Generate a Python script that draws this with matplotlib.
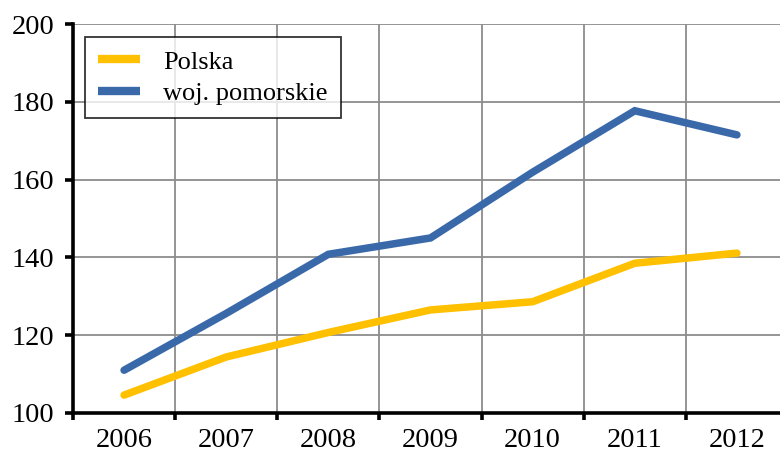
import matplotlib
matplotlib.use("Agg")
import matplotlib.pyplot as plt
import numpy as np

years = ["2006", "2007", "2008", "2009", "2010", "2011", "2012"]
polska = [104.6, 114.4, 120.7, 126.5, 128.6, 138.5, 141.1]
pomorskie = [111.0, 125.6, 140.8, 145.0, 161.9, 177.7, 171.5]
series_labels = ["Polska", "woj. pomorskie"]

plt.rcParams["font.family"] = ["Liberation Serif", "DejaVu Serif"]

fig = plt.figure(figsize=(7.8, 4.54), dpi=100)
ax = fig.add_axes([73 / 780, 41 / 454, 715 / 780, 389 / 454])

x = np.arange(len(years))
ax.plot(x, polska, color="#FFC000", lw=5.4, solid_capstyle="round",
        solid_joinstyle="miter", label=series_labels[0], zorder=3)
ax.plot(x, pomorskie, color="#3A69AA", lw=5.4, solid_capstyle="round",
        solid_joinstyle="miter", label=series_labels[1], zorder=3)

ax.set_xlim(-0.5, len(years) - 0.5)
ax.set_ylim(100, 200)
ax.set_yticks(np.arange(100, 201, 20))

# category boundaries carry the ticks and grid; labels sit at category centres
ax.set_xticks(np.arange(-0.5, len(years), 1.0))
ax.set_xticklabels([])
ax.set_xticks(x, minor=True)
ax.set_xticklabels(years, minor=True)

ax.grid(True, which="major", color="#8C8C8C", lw=1.3, zorder=1)
ax.set_axisbelow(True)

for side in ("top", "right"):
    ax.spines[side].set_visible(False)
for side in ("left", "bottom"):
    ax.spines[side].set_linewidth(2.6)
    ax.spines[side].set_color("black")
    ax.spines[side].set_zorder(4)

ax.tick_params(axis="y", which="major", direction="out", length=6, width=2.6,
               labelsize=20.5, pad=7.5, colors="black")
ax.tick_params(axis="x", which="major", direction="out", length=5, width=2.6,
               colors="black")
ax.tick_params(axis="x", which="minor", length=0, labelsize=20.5, pad=11)

leg = ax.legend(loc="upper left", bbox_to_anchor=(12 / 715, 1 - 13 / 389),
                frameon=True, fancybox=False, fontsize=19,
                handlelength=1.6, handletextpad=0.85, borderpad=0.5,
                labelspacing=0.3, borderaxespad=0)
leg.get_frame().set_edgecolor("black")
leg.get_frame().set_linewidth(1.3)
for h in leg.get_lines():
    h.set_solid_capstyle("butt")
    h.set_linewidth(6)

fig.savefig("out.png", dpi=100)
